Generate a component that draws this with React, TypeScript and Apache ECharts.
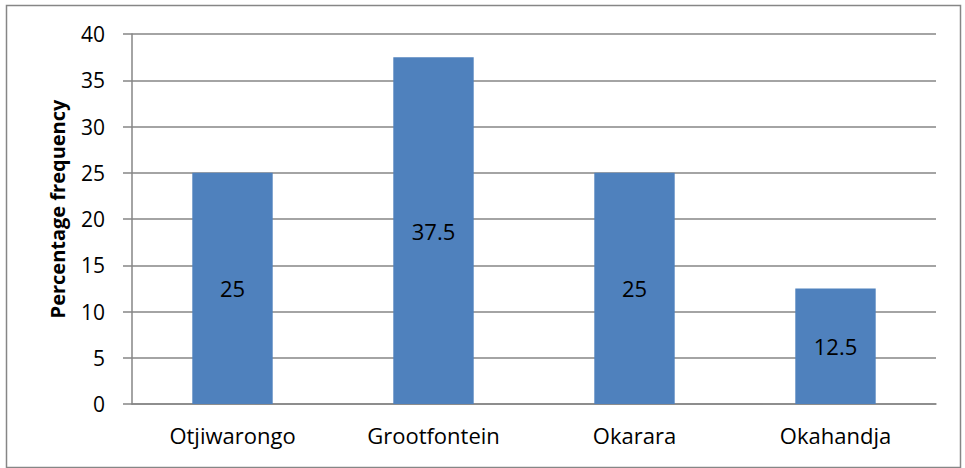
import React, { useEffect, useRef } from "react";
import * as echarts from "echarts";

const categories = ["Otjiwarongo", "Grootfontein", "Okarara", "Okahandja"];
const values = [25, 37.5, 25, 12.5];
const yTitle = "Percentage frequency";

export default function App() {
  const ref = useRef<HTMLDivElement>(null);
  useEffect(() => {
    if (!ref.current) return;
    const chart = echarts.init(ref.current, null, { renderer: "svg" });
    const font = "'Open Sans', sans-serif";
    chart.setOption({
      animation: false,
      backgroundColor: "#ffffff",
      grid: { left: 132, right: 29, top: 34, bottom: 64, containLabel: false },
      xAxis: {
        type: "category",
        data: categories,
        axisLine: { show: true, lineStyle: { color: "#868686", width: 1.5 } },
        axisTick: { show: false },
        axisLabel: { color: "#000", fontFamily: font, fontSize: 22, margin: 20 },
      },
      yAxis: {
        type: "value",
        min: 0,
        max: 40,
        interval: 5,
        axisLine: { show: true, lineStyle: { color: "#868686", width: 1.5 } },
        axisTick: { show: true, length: 9, lineStyle: { color: "#868686", width: 1.5 } },
        splitLine: { show: true, lineStyle: { color: "#868686", width: 1.5 } },
        axisLabel: { color: "#000", fontFamily: font, fontSize: 21, margin: 27 },
      },
      series: [
        {
          type: "bar",
          data: values,
          barWidth: "40%",
          itemStyle: { color: "#4F81BD" },
          label: {
            show: true,
            position: "inside",
            color: "#000",
            fontFamily: font,
            fontSize: 22,
          },
        },
      ],
      graphic: [
        {
          type: "rect",
          shape: { x: 6.5, y: 5.5, width: 954, height: 462 },
          style: { fill: "none", stroke: "#868686", lineWidth: 1.5 },
          silent: true,
        },
        {
          type: "text",
          x: 57,
          y: 209,
          rotation: Math.PI / 2,
          style: {
            text: yTitle,
            fontFamily: font,
            fontWeight: "bold",
            fontSize: 20,
            fill: "#000",
            textAlign: "center",
            textVerticalAlign: "middle",
          },
        },
      ],
    });
    return () => chart.dispose();
  }, []);
  return (
    <div
      ref={ref}
      style={{ position: "fixed", left: 0, top: 0, width: 965, height: 468 }}
    />
  );
}
